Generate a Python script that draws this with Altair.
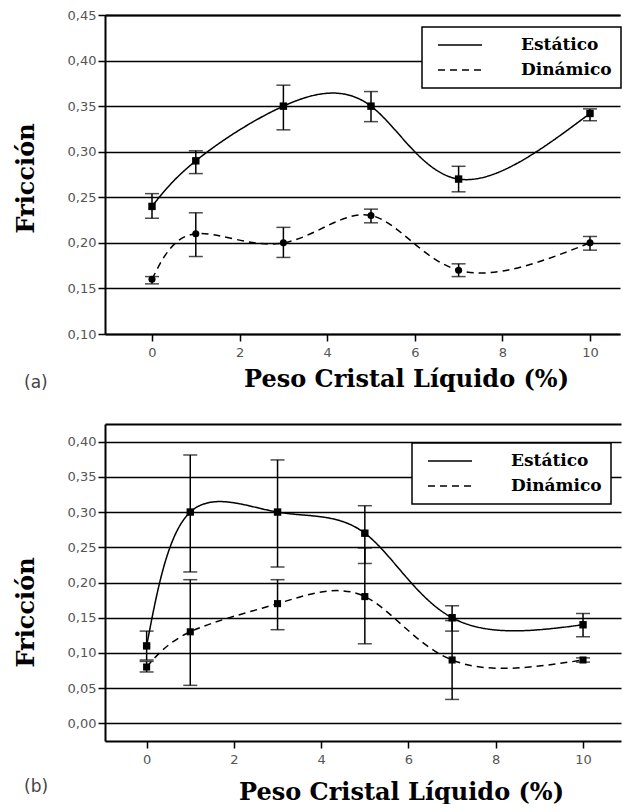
import altair as alt
import pandas as pd

# ---------------- data ----------------
x_vals = [0, 1, 3, 5, 7, 10]
series_names = ["Estático", "Dinámico"]

# panel (a)
a_est = [0.24, 0.29, 0.35, 0.35, 0.27, 0.342]
a_est_lo = [0.227, 0.276, 0.324, 0.333, 0.256, 0.334]
a_est_hi = [0.254, 0.301, 0.373, 0.366, 0.284, 0.347]
a_din = [0.16, 0.21, 0.20, 0.23, 0.17, 0.20]
a_din_lo = [0.155, 0.185, 0.184, 0.222, 0.163, 0.192]
a_din_hi = [0.163, 0.233, 0.217, 0.237, 0.177, 0.207]

# panel (b)
b_est = [0.11, 0.30, 0.30, 0.27, 0.15, 0.14]
b_est_lo = [0.090, 0.215, 0.222, 0.227, 0.131, 0.123]
b_est_hi = [0.131, 0.381, 0.374, 0.309, 0.167, 0.156]
b_din = [0.08, 0.13, 0.17, 0.18, 0.09, 0.09]
b_din_lo = [0.073, 0.054, 0.133, 0.113, 0.034, 0.087]
b_din_hi = [0.088, 0.204, 0.204, 0.249, 0.146, 0.093]

x_ticks = [0, 2, 4, 6, 8, 10]
a_y_ticks = [0.10, 0.15, 0.20, 0.25, 0.30, 0.35, 0.40, 0.45]
b_y_ticks = [0.00, 0.05, 0.10, 0.15, 0.20, 0.25, 0.30, 0.35, 0.40]

x_title = "Peso Cristal Líquido (%)"
y_title = "Fricción"


def panel_df(est, est_lo, est_hi, din, din_lo, din_hi):
    rows = []
    for name, ys, lo, hi in ((series_names[0], est, est_lo, est_hi),
                             (series_names[1], din, din_lo, din_hi)):
        for xv, yv, l, h in zip(x_vals, ys, lo, hi):
            rows.append({"x": xv, "y": yv, "lo": l, "hi": h, "serie": name})
    return pd.DataFrame(rows)


SERIF = "DejaVu Serif"
SANS = "DejaVu Sans"
LABEL_EXPR = "replace(format(datum.value, '.2f'), '.', ',')"


def panel(df, xdom, ydom, yticks, width, height, legend_x, legend_y,
          title_x, title_y, x_title_pad, tag, tag_offset, dyn_shape):
    xs = alt.Scale(domain=xdom, nice=False, zero=False)
    ys = alt.Scale(domain=ydom, nice=False, zero=False)
    x_axis = alt.Axis(values=x_ticks, title=x_title, grid=False, format="d",
                      labelPadding=5, titlePadding=x_title_pad, titleX=title_x)
    y_axis = alt.Axis(values=yticks, title=y_title, grid=True, gridColor="black",
                      gridWidth=1.5, gridOpacity=1, labelExpr=LABEL_EXPR,
                      labelPadding=2, titlePadding=29, titleY=title_y)
    top_axis = alt.Axis(orient="top", labels=False, ticks=False, grid=False,
                        domain=True, title=None)

    base = alt.Chart(df)
    yq = lambda f: alt.Y(f, scale=ys, axis=y_axis)
    lines = base.mark_line(interpolate="natural", color="black", strokeWidth=1.5).encode(
        x=alt.X("x:Q", scale=xs, axis=x_axis),
        y=yq("y:Q"),
        strokeDash=alt.StrokeDash(
            "serie:N",
            scale=alt.Scale(domain=series_names, range=[[1, 0], [7, 5]]),
            legend=alt.Legend(
                title=None, orient="none", legendX=legend_x, legendY=legend_y,
                fillColor="white", strokeColor="black", padding=9,
                symbolType="stroke", symbolSize=1936, symbolStrokeWidth=1.5,
                symbolStrokeColor="black", symbolOffset=6, clipHeight=18,
                rowPadding=7, labelOffset=38, labelFont=SERIF, labelFontSize=17,
                labelFontWeight="bold", labelColor="black",
            ),
        ),
    )
    err = base.mark_rule(color="black", strokeWidth=1.5).encode(
        x=alt.X("x:Q", scale=xs, axis=top_axis),
        y=yq("lo:Q"),
        y2="hi:Q",
    )
    cap_lo = base.mark_tick(color="black", orient="horizontal", size=14, thickness=1.5).encode(
        x=alt.X("x:Q", scale=xs, axis=None),
        y=yq("lo:Q"),
    )
    cap_hi = base.mark_tick(color="black", orient="horizontal", size=14, thickness=1.5).encode(
        x=alt.X("x:Q", scale=xs, axis=None),
        y=yq("hi:Q"),
    )
    pts_est = base.transform_filter(alt.datum.serie == series_names[0]).mark_point(
        shape="square", filled=True, size=55, color="black", opacity=1).encode(
        x=alt.X("x:Q", scale=xs, axis=None),
        y=yq("y:Q"),
    )
    pts_din = base.transform_filter(alt.datum.serie == series_names[1]).mark_point(
        shape=dyn_shape, filled=True, size=50, color="black", opacity=1).encode(
        x=alt.X("x:Q", scale=xs, axis=None),
        y=yq("y:Q"),
    )
    return alt.layer(lines, err, cap_lo, cap_hi, pts_est, pts_din).resolve_axis(
        x="independent"
    ).properties(
        width=width, height=height,
        title=alt.TitleParams(tag, orient="bottom", anchor="start", frame="group",
                              dx=-81, offset=tag_offset, font=SANS, fontSize=17,
                              fontWeight="normal", color="#444"),
    )


df_a = panel_df(a_est, a_est_lo, a_est_hi, a_din, a_din_lo, a_din_hi)
df_b = panel_df(b_est, b_est_lo, b_est_hi, b_din, b_din_lo, b_din_hi)

top = panel(df_a, [-1.073, 10.685], [0.10, 0.45], a_y_ticks, 515, 319,
            317, 12, 301, 163, 8, "(a)", -16, "circle")
bottom = panel(df_b, [-0.954, 10.87], [-0.025, 0.425], b_y_ticks, 516, 317,
               307, 19, 296, 188, 14, "(b)", -25, "square")

chart = alt.vconcat(top, bottom, spacing=33).resolve_scale(
    strokeDash="independent"
).resolve_legend(strokeDash="independent").properties(
    padding={"left": 14, "top": 9, "right": 0, "bottom": 0}
).configure_view(stroke=None).configure_axis(
    domainColor="black", domainWidth=2, tickColor="black", tickWidth=1.5,
    tickSize=7, labelFont=SANS, labelFontSize=13, labelColor="#555",
    titleFont=SERIF, titleFontSize=24, titleFontWeight="bold", titleColor="black",
).configure_legend(strokeWidth=1.5)

chart.save("out.html", embed_options={"renderer": "svg", "actions": False})
